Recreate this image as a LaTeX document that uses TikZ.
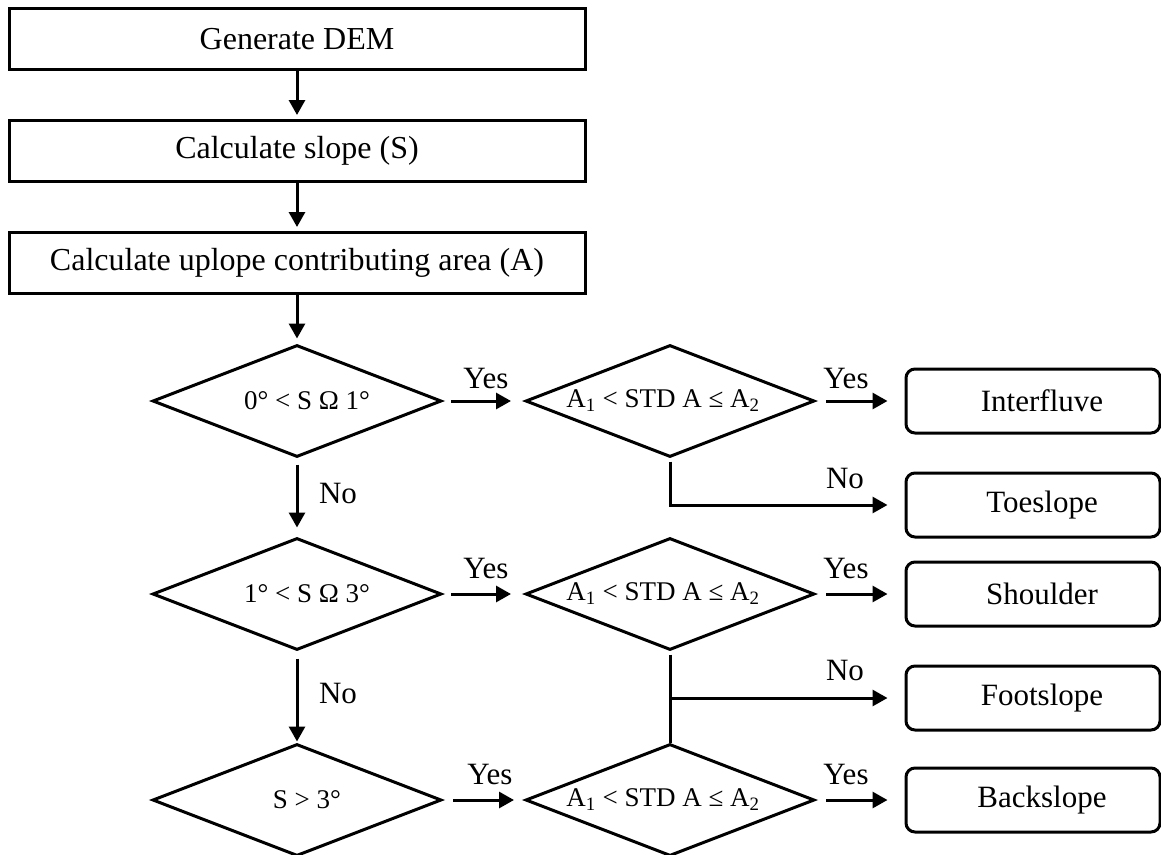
\documentclass[tikz,border=0pt]{standalone}
\usepackage{fontspec}
\setmainfont{Liberation Serif}
\usetikzlibrary{shapes.geometric,arrows.meta}
\begin{document}
\begin{tikzpicture}[x=1pt,y=-1pt,line width=3pt,
  procbox/.style={draw,rectangle,minimum width=576pt,minimum height=61pt,inner sep=0pt,font=\fontsize{32}{38}\selectfont},
  decbox/.style={draw,diamond,aspect=2.58,minimum width=289pt,minimum height=112pt,inner sep=0pt,font=\fontsize{27}{32}\selectfont},
  resbox/.style={draw,rectangle,rounded corners=9pt,minimum width=254pt,minimum height=64pt,inner sep=0pt,font=\fontsize{31}{37}\selectfont},
  lbl/.style={inner sep=0pt,font=\fontsize{31}{37}\selectfont},
  arr/.style={-{Triangle[length=15pt,width=16pt]}}
]
\useasboundingbox (0,0) rectangle (1161,854);
% process boxes
\node[procbox] (b1) at (297,39) {Generate DEM};
\node[procbox] (b2) at (297,151) {Calculate slope (S)};
\node[procbox] (b3) at (297,263) {Calculate uplope contributing area (A)};
% decisions column 1
\node[decbox] (d11) at (297,401) {\hspace*{20pt}0° < S Ω 1°};
\node[decbox] (d21) at (297,594) {\hspace*{20pt}1° < S Ω 3°};
\node[decbox] (d31) at (297,800) {\hspace*{20pt}S > 3°};
% decisions column 2
\node[decbox] (d12) at (670,401) {A\textsubscript{1} < STD A ≤ A\textsubscript{2}\hspace*{14pt}};
\node[decbox] (d22) at (670,594) {A\textsubscript{1} < STD A ≤ A\textsubscript{2}\hspace*{14pt}};
\node[decbox] (d32) at (670,800) {A\textsubscript{1} < STD A ≤ A\textsubscript{2}\hspace*{14pt}};
% results
\node[resbox] (r1) at (1033,401) {\hspace*{18pt}Interfluve};
\node[resbox] (r2) at (1033,505) {\hspace*{18pt}Toeslope};
\node[resbox] (r3) at (1033,594) {\hspace*{18pt}Shoulder};
\node[resbox] (r4) at (1033,698) {\hspace*{18pt}Footslope};
\node[resbox] (r5) at (1033,800) {\hspace*{18pt}Backslope};
% vertical flow
\draw[arr,shorten >=4pt] (b1) -- (b2);
\draw[arr,shorten >=4pt] (b2) -- (b3);
\draw[arr,shorten >=5pt] (b3) -- (d11);
\draw[arr,shorten <=6pt,shorten >=9pt] (d11) -- (d21);
\draw[arr,shorten <=7pt,shorten >=1pt] (d21) -- (d31);
% yes arrows
\draw[arr,shorten <=8pt,shorten >=13pt] (d11) -- (d12);
\draw[arr,shorten <=10pt,shorten >=17pt] (d12) -- (r1);
\draw[arr,shorten <=8pt,shorten >=13pt] (d21) -- (d22);
\draw[arr,shorten <=10pt,shorten >=17pt] (d22) -- (r3);
\draw[arr,shorten <=10pt,shorten >=10pt] (d31) -- (d32);
\draw[arr,shorten <=10pt,shorten >=17pt] (d32) -- (r5);
% no branches
\draw[arr,shorten <=3pt,shorten >=17pt] (d12.south) -- (d12.south |- r2.west) -- (r2.west);
\draw[shorten <=3pt] (d22.south) -- (d32.north);
\coordinate (fj) at (d22.south |- r4.west);
\draw[arr,shorten >=17pt] (fj) -- (r4.west);
% labels
\node[lbl] (y1) at (486,378) {Yes};
\node[lbl] (y2) at (846,378) {Yes};
\node[lbl] (n1) at (845,478) {No};
\node[lbl] (n2) at (338,493) {No};
\node[lbl] (y3) at (486,568) {Yes};
\node[lbl] (y4) at (846,568) {Yes};
\node[lbl] (n3) at (845,670) {No};
\node[lbl] (n4) at (338,693) {No};
\node[lbl] (y5) at (490,774) {Yes};
\node[lbl] (y6) at (846,774) {Yes};
\end{tikzpicture}
\end{document}
